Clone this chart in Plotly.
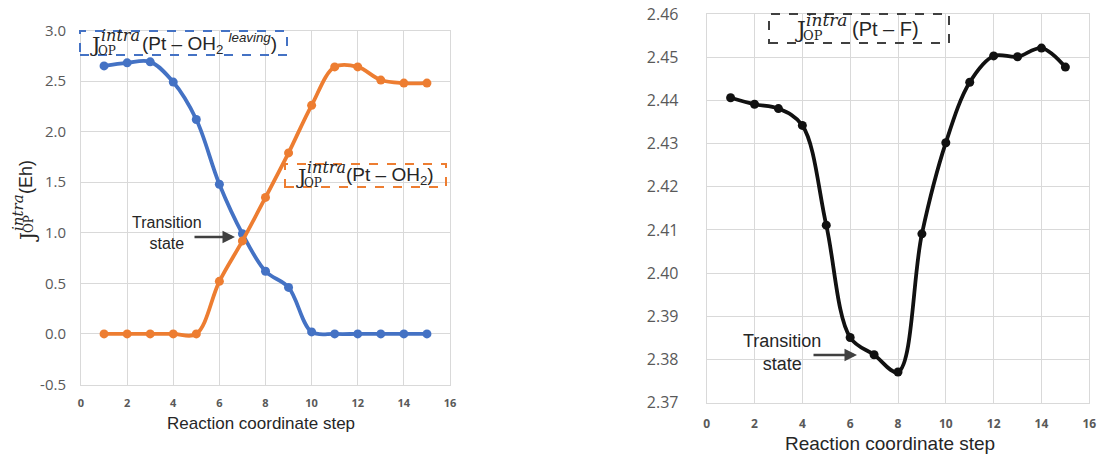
import plotly.graph_objects as go

W, H = 1104, 454

steps = list(range(1, 16))
leaving_oh2 = [2.65, 2.68, 2.69, 2.49, 2.12, 1.48, 0.99, 0.62, 0.46, 0.02, 0.00, 0.00, 0.00, 0.00, 0.00]
entering_oh2 = [0.00, 0.00, 0.00, 0.00, 0.00, 0.52, 0.92, 1.35, 1.79, 2.26, 2.64, 2.64, 2.51, 2.48, 2.48]
pt_f = [2.4406, 2.4391, 2.4381, 2.4342, 2.4111, 2.3851, 2.3811, 2.3771, 2.4091, 2.4302, 2.4442, 2.4503, 2.4501, 2.4521, 2.4477]

x_ticks = [0, 2, 4, 6, 8, 10, 12, 14, 16]
left_y_ticks = [-0.5, 0.0, 0.5, 1.0, 1.5, 2.0, 2.5, 3.0]
left_y_labels = ["-0.5", "0.0", "0.5", "1.0", "1.5", "2.0", "2.5", "3.0"]
right_y_ticks = [2.37, 2.38, 2.39, 2.40, 2.41, 2.42, 2.43, 2.44, 2.45, 2.46]
right_y_labels = ["2.37", "2.38", "2.39", "2.40", "2.41", "2.42", "2.43", "2.44", "2.45", "2.46"]

BLUE = "#4472C4"
ORANGE = "#ED7D31"
BLACK = "#111111"
GRID = "#d9d9d9"
TICK = "#595959"


def px(x):
    return x / W


def py(y):
    return 1 - y / H


fig = go.Figure()

fig.add_trace(go.Scatter(x=steps, y=leaving_oh2, mode="lines+markers",
                         line=dict(color=BLUE, width=3.8, shape="spline", smoothing=1.0),
                         marker=dict(size=9, color=BLUE), xaxis="x", yaxis="y", showlegend=False))
fig.add_trace(go.Scatter(x=steps, y=entering_oh2, mode="lines+markers",
                         line=dict(color=ORANGE, width=3.8, shape="spline", smoothing=1.0),
                         marker=dict(size=9, color=ORANGE), xaxis="x", yaxis="y", showlegend=False))
fig.add_trace(go.Scatter(x=steps, y=pt_f, mode="lines+markers",
                         line=dict(color=BLACK, width=3.8, shape="spline", smoothing=1.0),
                         marker=dict(size=9, color=BLACK), xaxis="x2", yaxis="y2", showlegend=False))

axis_common = dict(showgrid=True, gridcolor=GRID, gridwidth=1, zeroline=False,
                   showline=True, linecolor=GRID, linewidth=1, mirror=True,
                   ticks="", automargin=False)

fig.update_layout(
    width=W, height=H, autosize=False,
    margin=dict(l=0, r=0, t=0, b=0, pad=0, autoexpand=False),
    paper_bgcolor="white", plot_bgcolor="white",
    xaxis=dict(domain=[px(81), px(450)], range=[0, 16], tickvals=x_ticks,
               tickfont=dict(family="Open Sans", size=11, color=TICK, weight="bold"),
               ticklabelstandoff=8, anchor="y", **axis_common),
    yaxis=dict(domain=[py(384.5), py(30.5)], range=[-0.5, 3.0], tickvals=left_y_ticks,
               ticktext=left_y_labels,
               tickfont=dict(family="Open Sans", size=15, color=TICK),
               ticklabelstandoff=11, anchor="x", **axis_common),
    xaxis2=dict(domain=[px(706.7), px(1089.3)], range=[0, 16], tickvals=x_ticks,
                tickfont=dict(family="Open Sans", size=12, color=TICK, weight="bold"),
                ticklabelstandoff=10, anchor="y2", **axis_common),
    yaxis2=dict(domain=[py(402.7), py(14)], range=[2.37, 2.46], tickvals=right_y_ticks,
                ticktext=right_y_labels,
                tickfont=dict(family="Open Sans", size=16, color=TICK),
                ticklabelstandoff=24, anchor="x2", **axis_common),
)

ann = []
shapes = []


def text(x, y, s, size, family="Liberation Sans", color="#262626", xanchor="center",
         angle=0, yanchor="middle"):
    ann.append(dict(x=px(x), y=py(y), xref="paper", yref="paper", text=s, showarrow=False,
                    xanchor=xanchor, yanchor=yanchor, textangle=angle,
                    font=dict(family=family, size=size, color=color)))


def box(x0, y0, x1, y1, color):
    shapes.append(dict(type="rect", xref="paper", yref="paper",
                       x0=px(x0), x1=px(x1), y0=py(y1), y1=py(y0),
                       line=dict(color=color, width=2, dash="dash"), fillcolor="rgba(0,0,0,0)"))


def jlabel(xj, yj, size, rest, rest_x):
    # J with stacked superscript "intra" and subscript "OP"
    text(xj, yj + 1, "J", size + 2, family="DejaVu Serif", xanchor="left")
    text(xj + 11, yj - 9, "<i>intra</i>", size - 3, family="DejaVu Serif", xanchor="left")
    text(xj + 8, yj + 7, "OP", size - 7, family="DejaVu Serif", xanchor="left")
    text(rest_x, yj, rest, size, xanchor="left")


# Left chart labels
box(80, 31, 287, 55, BLUE)
jlabel(88, 44, 19, "(Pt – OH<sub>2</sub> <sup><i>leaving</i></sup>)", 140)
box(285, 164, 446, 187, ORANGE)
jlabel(294, 176, 19, "(Pt – OH<sub>2</sub>)", 344)

# Right chart label
box(769, 14, 949, 43, "#404040")
jlabel(793, 29, 20, "(Pt – F)", 850)

# Transition state annotations
text(167, 233, "Transition<br>state", 16, color="#262626")
ann.append(dict(x=px(235), y=py(237), xref="paper", yref="paper", ax=-42, ay=0,
                text="", showarrow=True, arrowhead=2, arrowsize=1, arrowwidth=2.5,
                arrowcolor="#404040"))
text(782, 352, "Transition<br>state", 18, color="#262626")
ann.append(dict(x=px(857), y=py(355), xref="paper", yref="paper", ax=-45, ay=0,
                text="", showarrow=True, arrowhead=2, arrowsize=1, arrowwidth=2.5,
                arrowcolor="#404040"))

# Axis titles
text(261, 423, "Reaction coordinate step", 17, color="#262626")
text(890, 443, "Reaction coordinate step", 19, color="#262626")

# Left y-axis title (rotated)
text(26, 177, "(Eh)", 18, angle=-90, color="#262626")
text(28, 237, "J", 20, family="DejaVu Serif", angle=-90, color="#262626")
text(18, 213, "<i>intra</i>", 15, family="DejaVu Serif", angle=-90, color="#262626")
text(29, 224, "OP", 12, family="DejaVu Serif", angle=-90, color="#262626")

fig.update_layout(annotations=ann, shapes=shapes)

fig.write_html("out.html")
